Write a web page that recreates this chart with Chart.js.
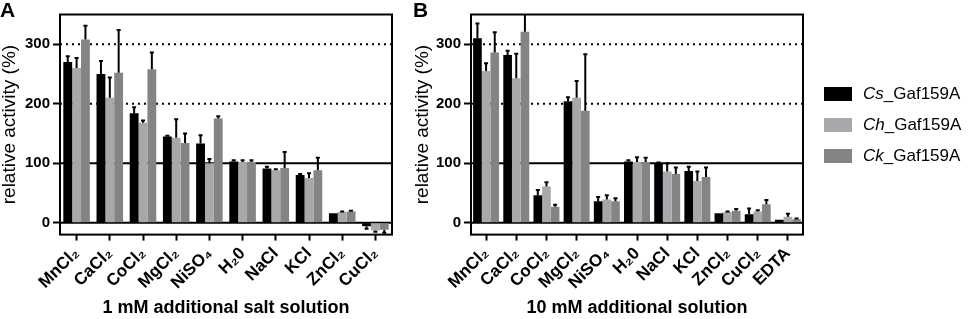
<!DOCTYPE html>
<html>
<head>
<meta charset="utf-8">
<script src="https://cdn.jsdelivr.net/npm/chart.js@4.4.1/dist/chart.umd.min.js"></script>
<style>
html, body { margin: 0; padding: 0; background: #fff; }
#wrapA { position: absolute; left: 0; top: 0; width: 400px; height: 319px; }
#wrapB { position: absolute; left: 400px; top: 0; width: 569px; height: 319px; }
</style>
</head>
<body>
<div id="wrapA"><canvas id="chartA"></canvas></div>
<div id="wrapB"><canvas id="chartB"></canvas></div>
<script>
// series
const seriesNames = ['Cs_Gaf159A', 'Ch_Gaf159A', 'Ck_Gaf159A'];
const seriesColors = ['#000000', '#a8a8ac', '#848484'];

// panel A : 1 mM
const saltsA = ['MnCl₂', 'CaCl₂', 'CoCl₂', 'MgCl₂', 'NiSO₄', 'H₂0', 'NaCl', 'KCl', 'ZnCl₂', 'CuCl₂'];
const csA = [270, 250, 184, 145, 133, 103, 91, 80, 16, -6];
const chA = [260, 210, 168, 143, 100, 102, 88, 75, 18, -13];
const ckA = [308, 252, 258, 134, 175, 102, 92, 88, 19, -12];
const csErrA = [10, 22, 10, 1, 14, 2, 3, 2, 0, 4];
const chErrA = [17, 34, 4, 31, 7, 3, 2, 8, 1, 2];
const ckErrA = [23, 72, 28, 16, 4, 3, 27, 21, 1, 5];

// panel B : 10 mM
const saltsB = ['MnCl₂', 'CaCl₂', 'CoCl₂', 'MgCl₂', 'NiSO₄', 'H₂0', 'NaCl', 'KCl', 'ZnCl₂', 'CuCl₂', 'EDTA'];
const csB = [310, 282, 46, 204, 36, 103, 100, 87, 16, 14, 5];
const chB = [255, 243, 61, 210, 39, 102, 86, 70, 18, 19, 10];
const ckB = [286, 321, 27, 188, 36, 102, 82, 77, 20, 31, 6];
const csErrB = [25, 7, 9, 7, 7, 2, 1, 7, 0, 10, 0];
const chErrB = [13, 41, 7, 28, 7, 8, 14, 16, 1, 2, 5];
const ckErrB = [34, 40, 3, 95, 5, 7, 11, 16, 3, 7, 1];

// y axis
const yMin = -20, yMax = 350;
const yTicks = [0, 100, 200, 300];
const solidLines = [0, 100];
const dottedLines = [200, 300];

Chart.defaults.font.family = "'Liberation Sans', Arial, sans-serif";
Chart.defaults.color = '#000';

const refLines = {
    id: 'refLines',
    beforeDatasetsDraw(chart) {
        const {ctx, chartArea: a, scales: {y}} = chart;
        ctx.save();
        ctx.strokeStyle = '#000';
        ctx.lineWidth = 2;
        solidLines.forEach(v => {
            const py = y.getPixelForValue(v);
            ctx.beginPath(); ctx.moveTo(a.left, py); ctx.lineTo(a.right, py); ctx.stroke();
        });
        ctx.setLineDash([2, 4]);
        dottedLines.forEach(v => {
            const py = y.getPixelForValue(v);
            ctx.beginPath(); ctx.moveTo(a.left, py); ctx.lineTo(a.right, py); ctx.stroke();
        });
        ctx.restore();
    }
};

const errorBars = {
    id: 'errorBars',
    afterDatasetsDraw(chart) {
        const {ctx, chartArea: a, scales: {y}} = chart;
        ctx.save();
        ctx.beginPath();
        ctx.rect(a.left, a.top, a.right - a.left, a.bottom - a.top);
        ctx.clip();
        ctx.strokeStyle = '#000';
        ctx.lineWidth = 2;
        chart.data.datasets.forEach((ds, i) => {
            chart.getDatasetMeta(i).data.forEach((bar, j) => {
                const v = ds.data[j], e = ds.errors[j];
                if (!e) return;
                const y0 = y.getPixelForValue(v);
                const y1 = y.getPixelForValue(v < 0 ? v - e : v + e);
                ctx.beginPath();
                ctx.moveTo(bar.x, y0); ctx.lineTo(bar.x, y1);
                ctx.moveTo(bar.x - 2, y1); ctx.lineTo(bar.x + 2, y1);
                ctx.stroke();
            });
        });
        ctx.restore();
        // frame
        ctx.save();
        ctx.strokeStyle = '#000';
        ctx.lineWidth = 2;
        ctx.strokeRect(a.left, a.top, a.right - a.left, a.bottom - a.top);
        ctx.restore();
    }
};

const sideLegend = {
    id: 'sideLegend',
    afterDraw(chart) {
        const ctx = chart.ctx;
        const x0 = chart.chartArea.right + 21;
        ctx.save();
        ctx.textBaseline = 'middle';
        seriesNames.forEach((name, i) => {
            const cy = 94 + i * 31;
            ctx.fillStyle = seriesColors[i];
            ctx.fillRect(x0, cy - 7, 28, 14);
            const [pre, rest] = name.split('_');
            ctx.fillStyle = '#000';
            ctx.font = "italic 17px 'Liberation Sans', Arial, sans-serif";
            ctx.fillText(pre, x0 + 39, cy);
            const w = ctx.measureText(pre).width;
            ctx.font = "17px 'Liberation Sans', Arial, sans-serif";
            ctx.fillText('_' + rest, x0 + 39 + w, cy);
        });
        ctx.restore();
    }
};

function makeChart(canvasId, letter, labels, values, errors, xTitle, catPct, pad, yWidth, extraPlugins) {
    const datasets = seriesNames.map((name, i) => ({
        label: name,
        data: values[i],
        errors: errors[i],
        backgroundColor: seriesColors[i],
        borderWidth: 0,
        barPercentage: 1,
        categoryPercentage: catPct
    }));

    let config = {
        type: 'bar',
        data: {labels: labels, datasets: datasets},
        options: {
            responsive: true,
            maintainAspectRatio: false,
            animation: false,
            layout: {padding: pad},
            plugins: {
                legend: {display: false},
                tooltip: {enabled: false},
                title: {
                    display: true,
                    text: letter,
                    align: 'start',
                    color: '#000',
                    font: {size: 21, weight: 'bold', lineHeight: 0.5},
                    padding: {top: 6, bottom: -2}
                }
            },
            scales: {
                x: {
                    grid: {offset: false, drawOnChartArea: false, tickLength: 6, tickWidth: 2, tickColor: '#000'},
                    border: {display: false},
                    ticks: {minRotation: 45, maxRotation: 45, autoSkip: false, padding: 3, color: '#000',
                            font: {size: 17, weight: 'bold'}},
                    title: {display: true, text: xTitle, color: '#000',
                            font: {size: 18, weight: 'bold', lineHeight: 1}, padding: {top: 0, bottom: 1.5}},
                    afterFit: s => { s.height = 84.4; }
                },
                y: {
                    min: yMin,
                    max: yMax,
                    grid: {drawOnChartArea: false, tickLength: 7, tickWidth: 2, tickColor: '#000'},
                    border: {display: false},
                    ticks: {padding: 3, color: '#000', font: {size: 15, weight: 'bold'}},
                    afterBuildTicks: s => { s.ticks = yTicks.map(v => ({value: v})); },
                    title: {display: true, text: 'relative activity (%)', color: '#000',
                            font: {size: 19, lineHeight: 1}, padding: 0},
                    afterFit: s => { s.width = yWidth; }
                }
            }
        },
        plugins: [refLines, errorBars].concat(extraPlugins)
    };

    return new Chart(document.getElementById(canvasId), config);
}

makeChart('chartA', 'A', saltsA, [csA, chA, ckA], [csErrA, chErrA, ckErrA],
    '1 mM additional salt solution', 0.8, {left: 0, right: 8, top: 0, bottom: 0}, 60, []);

makeChart('chartB', 'B', saltsB, [csB, chB, ckB], [csErrB, chErrB, ckErrB],
    '10 mM additional solution', 0.86, {left: 13, right: 166, top: 0, bottom: 0}, 58, [sideLegend]);
</script>
</body>
</html>
